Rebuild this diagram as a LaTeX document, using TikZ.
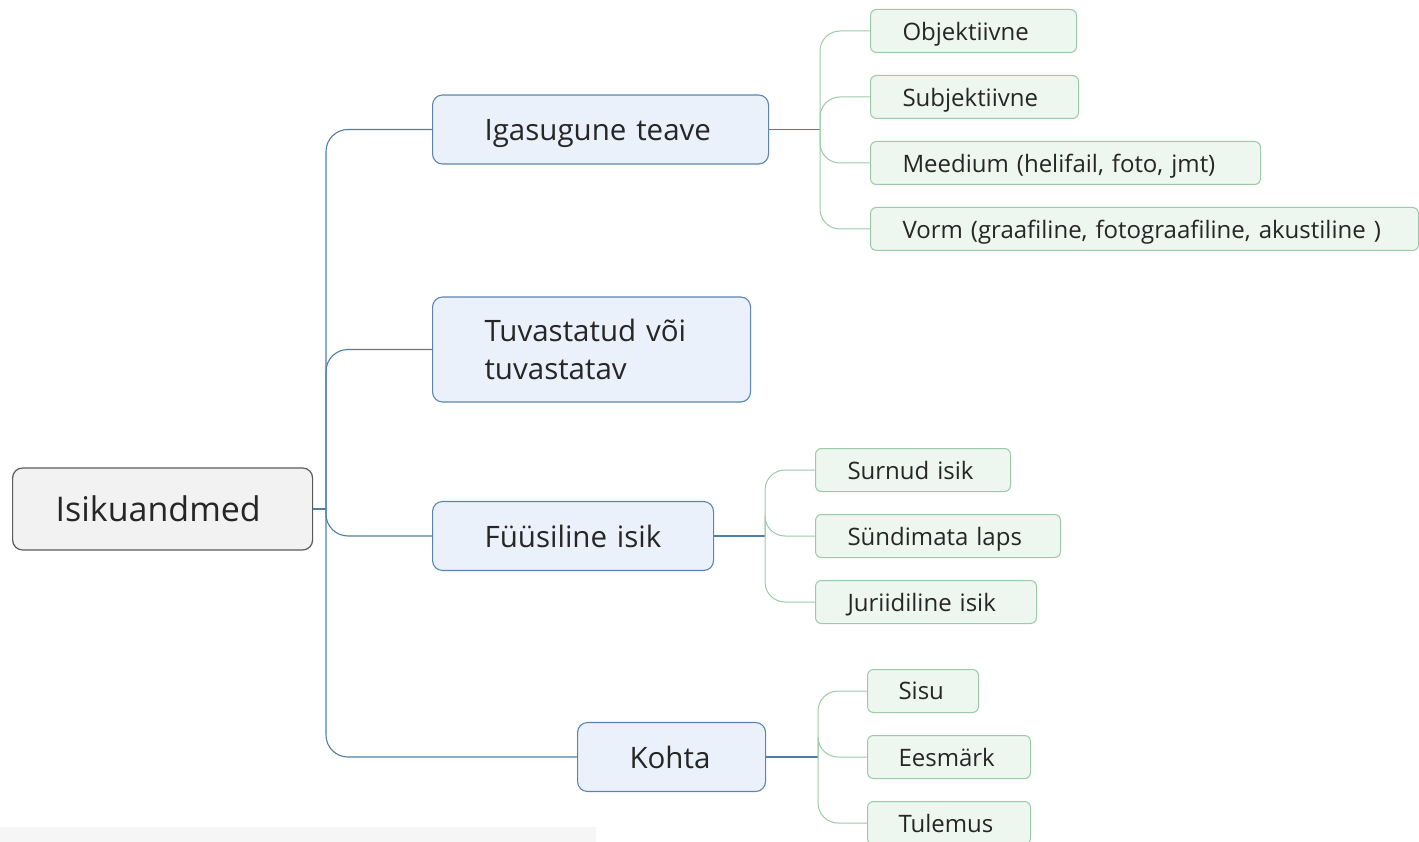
\documentclass[tikz,border=0pt]{standalone}
\usepackage{fontspec}
\setmainfont{Open Sans}
\definecolor{rootfill}{HTML}{F2F2F2}
\definecolor{rootdraw}{HTML}{5A5A5A}
\definecolor{bluefill}{HTML}{EAF1FB}
\definecolor{bluedraw}{HTML}{5B84B0}
\definecolor{greenfill}{HTML}{EDF6EF}
\definecolor{greendraw}{HTML}{9CC9A8}
\definecolor{bluelink}{HTML}{4E7EA8}
\definecolor{greenlink}{HTML}{9CC9A8}
\definecolor{txt}{HTML}{262626}
\definecolor{strip}{HTML}{F6F6F6}
\begin{document}
\begin{tikzpicture}[x=1pt,y=-1pt,
  rootbox/.style={draw=rootdraw,fill=rootfill,rounded corners=10pt,line width=1.2pt,anchor=west,
    minimum height=82pt,font=\fontsize{34}{40}\selectfont,text=txt,inner xsep=43pt,inner ysep=0pt,align=left,text depth=0pt},
  bluebase/.style={draw=bluedraw,fill=bluefill,rounded corners=10pt,line width=1.1pt,anchor=west,
    minimum height=69pt,font=\fontsize{29.5}{38}\selectfont,text=txt,inner xsep=52pt,inner ysep=0pt,align=left},
  bluebox/.style={bluebase,text depth=0pt},
  greenbox/.style={draw=greendraw,fill=greenfill,rounded corners=6pt,line width=1pt,anchor=west,
    minimum height=43pt,font=\fontsize{24}{28}\selectfont,text=txt,inner xsep=32pt,inner ysep=0pt,align=left,text depth=0pt},
  mainlink/.style={draw=bluelink,line width=1.1pt,rounded corners=22pt},
  sublink/.style={draw=greenlink,line width=1pt,rounded corners=20pt}
]
\useasboundingbox (0,0) rectangle (1419,842);
\fill[strip] (0,827) rectangle (596,842);

% root
\node[rootbox,text width=214pt] (root) at (12,509) {Isikuandmed};

% level 1
\node[bluebox,text width=232pt] (ig) at (432,129.5) {Igasugune teave};
\node[bluebase,text width=214pt,minimum height=105pt] (tu) at (432,349.5) {Tuvastatud või\\tuvastatav};
\node[bluebox,text width=177pt] (fy) at (432,536) {Füüsiline isik};
\node[bluebox,text width=84pt] (ko) at (577,757) {Kohta};

% level 2 under Igasugune teave
\node[greenbox,text width=142pt] (ob) at (870,31) {Objektiivne};
\node[greenbox,text width=144pt] (su) at (870,97) {Subjektiivne};
\node[greenbox,text width=326pt] (me) at (870,163) {Meedium (helifail, foto, jmt)};
\node[greenbox,text width=484pt] (vo) at (870,229) {Vorm (graafiline, fotograafiline, akustiline )};

% level 2 under Füüsiline isik
\node[greenbox,text width=131pt] (sn) at (815,470) {Surnud isik};
\node[greenbox,text width=181pt] (sl) at (815,536) {Sündimata laps};
\node[greenbox,text width=157pt] (ju) at (815,602) {Juriidiline isik};

% level 2 under Kohta
\node[greenbox,text width=49pt,inner xsep=31pt] (si) at (867,691) {Sisu};
\node[greenbox,text width=101pt,inner xsep=31pt] (ee) at (867,757) {Eesmärk};
\node[greenbox,text width=101pt,inner xsep=31pt] (tl) at (867,823) {Tulemus};

% main connectors
\coordinate (rj) at (326,509);
\draw[mainlink,rounded corners=0pt] (root.east) -- (rj);
\draw[mainlink] (rj) |- (ig.west);
\draw[mainlink] (rj) |- (tu.west);
\draw[mainlink] (rj) |- (fy.west);
\draw[mainlink] (rj) |- (ko.west);

% sub connectors
\coordinate (igj) at (820,129.5);
\draw[mainlink,rounded corners=0pt] (ig.east) -- (igj);
\foreach \c in {ob,su,me,vo} \draw[sublink] (igj) |- (\c.west);

\coordinate (fyj) at (765,536);
\draw[mainlink,rounded corners=0pt] (fy.east) -- (fyj);
\foreach \c in {sn,sl,ju} \draw[sublink] (fyj) |- (\c.west);

\coordinate (koj) at (818,757);
\draw[mainlink,rounded corners=0pt] (ko.east) -- (koj);
\foreach \c in {si,ee,tl} \draw[sublink] (koj) |- (\c.west);
\end{tikzpicture}
\end{document}
